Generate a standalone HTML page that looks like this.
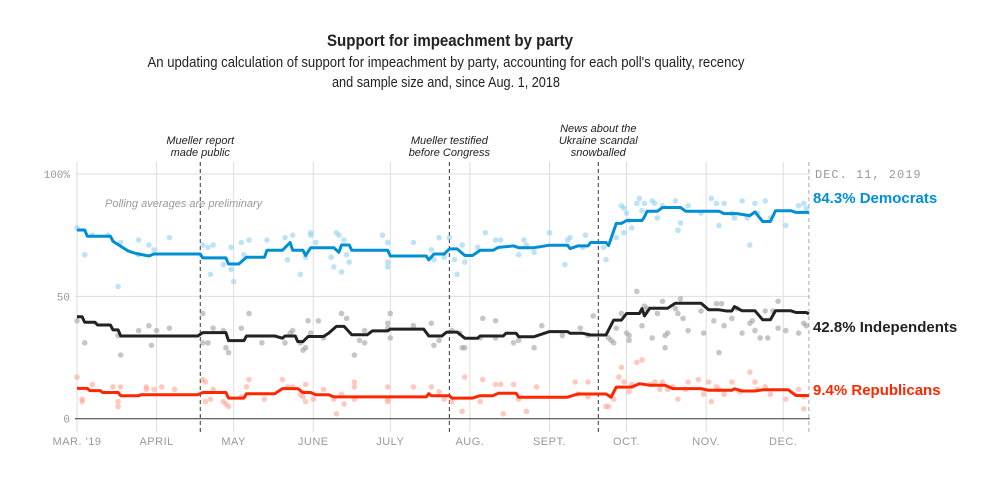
<!DOCTYPE html>
<html><head><meta charset="utf-8">
<style>
html,body{margin:0;padding:0;background:#fff;}
body{width:1003px;height:481px;overflow:hidden;font-family:"Liberation Sans",sans-serif;}
svg{display:block;}
</style></head>
<body>
<svg id="chart" width="1003" height="481">
<text x="450" y="46" text-anchor="middle" font-size="17" font-weight="bold" fill="#222" textLength="246" lengthAdjust="spacingAndGlyphs">Support for impeachment by party</text>
<text x="446" y="67" text-anchor="middle" font-size="15" fill="#222" textLength="597" lengthAdjust="spacingAndGlyphs">An updating calculation of support for impeachment by party, accounting for each poll's quality, recency</text>
<text x="446" y="87" text-anchor="middle" font-size="15" fill="#222" textLength="228" lengthAdjust="spacingAndGlyphs">and sample size and, since Aug. 1, 2018</text>
<g id="plot"></g>
</svg>
<script>
const monthLabels=["MAR. '19","APRIL","MAY","JUNE","JULY","AUG.","SEPT.","OCT.","NOV.","DEC."];
const monthDays=[0,31,61,92,122,153,184,214,245,275];
const yTicks=[0,50,100];
const yTickLabels=["0","50","100%"];
const eventDays=[48,145,203];
const eventLabels=[["Mueller report","made public"],["Mueller testified","before Congress"],["News about the","Ukraine scandal","snowballed"]];
const demDays=[0,3,4,13,14,20,23,28,30,48,49,58,59,63,66,73,74,80,83,84,88,89,91,100,102,103,106,107,121,122,136,137,139,143,145,148,151,154,157,162,164,170,172,178,184,191,192,195,199,200,206,207,210,212,214,220,221,222,226,228,235,237,250,252,257,262,264,267,270,272,278,280,284,285];
const demVals=[77.1,77.1,74.6,74.6,72.5,68.5,67.5,66.5,67.3,67.3,65.7,65.7,63.2,63.2,66,66,68.8,68.8,72,68.8,68.8,66.7,69.9,69.9,68,71,71,68.8,68.8,66.5,66.5,64.9,67.3,67.3,69.4,69.4,66.7,66.7,68.8,68.8,70,70.6,69.9,69.9,70.9,70.9,69.5,70.6,70.6,72,72,70.8,79.8,79.8,81,81,82.5,84.8,84.8,86.3,86.3,84.8,84.8,83.8,83.8,83,84.5,80.6,80.6,85,85,84.3,84.3,84.3];
const indDays=[0,2,3,7,8,13,14,16,17,47,49,58,59,65,66,77,80,81,85,86,88,90,96,98,101,104,107,113,115,121,122,135,137,142,144,148,151,156,157,166,167,171,172,178,184,191,192,197,200,206,209,212,214,219,220,221,223,230,233,243,246,250,253,255,256,259,264,267,270,272,278,280,284,285];
const indVals=[41.7,41.7,39.4,39.4,38.3,38.3,36.3,36.3,33.8,33.8,35.2,35.2,31.9,31.9,33.8,33.8,32.9,33.8,33.8,31.5,31.5,33.6,33.6,35,37.7,37.7,34.3,34.3,35.9,35.9,36.6,36.6,33.8,33.8,35.4,35.4,32.9,32.9,33.8,33.8,34.9,34.9,33.5,33.5,35.6,35.6,34.9,34.9,34.2,34.2,40.3,40.3,43,43,45,42,45.1,45.1,47.2,47.2,44.5,44.5,44,44,45.8,44.1,44.1,40.4,40.4,44.1,44.1,43.4,43.4,42.8];
const repDays=[0,4,5,9,10,16,17,24,25,47,49,58,59,65,66,77,80,86,88,91,93,98,100,136,137,138,145,146,154,157,162,164,171,172,191,195,206,208,210,216,219,223,229,232,243,246,255,256,259,264,267,277,280,284,285];
const repVals=[12.4,12.4,11.5,11.5,10.7,10.7,9.4,9.4,9.8,9.8,10.7,10.7,8.4,8.4,10.2,10.2,12.3,12.3,10.7,10.7,9.8,9.8,8.9,8.9,10.2,9.4,9.4,8.4,8.4,9.4,9.4,10.4,10.4,8.8,8.8,10.1,10.1,8.8,12.9,12.9,14.3,13.7,13.7,12.3,12.3,11.6,11.6,12.2,11.3,11.3,11.8,11.8,9.5,9.5,9.4];
const demPollDays=[0,3,6,12,16,17,24,24,28,30,36,49,51,52,53,57,60,60,61,64,65,67,74,81,82,84,87,89,91,91,93,99,100,101,102,103,104,105,106,119,121,121,121,131,138,139,141,143,145,147,148,150,151,156,159,163,165,172,174,178,175,184,190,191,192,198,197,205,206,210,212,213,213,214,215,216,218,219,220,221,224,225,226,228,233,234,235,238,243,247,249,250,252,255,256,259,261,262,264,265,268,270,276,281,283,284];
const demPollVals=[78,67,75,75,54,72,73,67,71,69,74,71,70,59,71,63,70,61,56,72,67,73,73,74,65,75,59,66,75,76,72,66,62,76,75,60,73,67,64,75,72,64,62,72,69,65,74,66,74,65,59,71,64,70,76,73,73,67,73,68,71,76,63,73,74,75,70,70,65,74,87,86,76,84,81,78,88,90,85,88,89,88,82,87,89,77,80,87,84,90,88,79,88,84,82,89,82,71,88,84,89,82,79,87,88,86];
const indPollDays=[0,3,17,16,24,28,29,31,36,49,49,51,53,57,58,59,64,67,72,81,83,84,87,88,89,90,91,94,96,103,105,108,110,112,112,121,121,122,122,131,138,139,141,146,149,150,151,157,158,163,163,170,172,178,181,189,196,199,201,207,208,209,210,212,214,215,215,218,220,221,222,224,226,228,229,229,230,233,234,235,236,238,243,244,248,249,250,251,252,255,257,259,262,263,264,266,268,269,271,273,273,276,281,283,284];
const indPollVals=[40,31,26,34,36,38,30,36,37,43,31,31,37,36,29,27,37,43,31,31,35,36,31,28,29,40,35,40,33,43,41,26,32,31,36,39,37,43,33,38,39,30,32,36,35,29,29,33,41,40,33,31,32,29,38,34,37,34,42,33,32,31,37,43,35,32,34,52,38,46,45,33,43,48,34,29,35,45,43,49,41,36,44,35,40,47,27,47,38,41,45,35,39,40,36,33,44,33,44,48,37,36,35,39,38];
const repPollDays=[0,2,2,6,14,16,16,17,27,27,30,33,38,49,50,50,52,53,57,58,59,64,66,67,73,80,82,84,87,88,89,89,92,96,100,101,103,104,108,108,108,121,121,121,131,138,141,143,146,150,151,157,158,163,165,166,170,172,175,179,194,195,199,199,206,207,209,211,212,213,215,216,218,220,223,225,227,228,230,232,234,237,238,242,244,246,247,249,250,252,255,258,262,264,265,268,270,276,281,283,283];
const repPollVals=[17,8,7,14,13,7,5,13,13,12,12,13,12,16,15,7,8,12,7,6,5,9,13,16,8,16,13,13,10,9,14,7,8,12,8,2,10,6,15,8,13,13,7,8,13,13,11,8,7,3,17,7,16,14,14,2,14,8,3,13,15,10,15,9,5,5,8,17,21,15,11,14,23,24,14,15,12,15,12,13,8,12,15,16,10,15,7,13,12,10,15,11,19,15,12,13,10,8,12,9,4];

const X0=77, PXDAY=2.568, Y0=418.7, PXPCT=2.447;
function xScale(d){return X0+d*PXDAY;}
function yScale(v){return Y0-v*PXPCT;}
const NS="http://www.w3.org/2000/svg";
const plot=document.getElementById('plot');
function mk(tag,attrs,parent){const e=document.createElementNS(NS,tag);for(const k in attrs)e.setAttribute(k,attrs[k]);(parent||plot).appendChild(e);return e;}

monthDays.forEach((d,i)=>{
  const x=xScale(d);
  const g=mk('line',{x1:x,x2:x,y1:162,y2:432,stroke:'#ddd','stroke-width':1});
  
  
  const t=mk('text',{x:x,y:445,'text-anchor':'middle','font-size':11,fill:'#999','font-family':'"Liberation Sans Narrow","Liberation Sans",sans-serif','letter-spacing':'0.5'});
  t.textContent=monthLabels[i];
  
  
});
yTicks.forEach((v,i)=>{
  const y=yScale(v);
  const l=mk('line',{x1:75,x2:810,y1:y,y2:y,stroke:v===0?'#333':'#ddd','stroke-width':1});
  
  
  const t=mk('text',{x:70,y:y+4,'text-anchor':'end','font-size':11,fill:'#999','font-family':'"Liberation Mono",monospace'});
  t.textContent=yTickLabels[i];
  
  
});
const ed=mk('line',{x1:xScale(285),x2:xScale(285),y1:162,y2:432,stroke:'#aaa','stroke-width':1,'stroke-dasharray':'4,3'});


const edt=mk('text',{x:815,y:178,'font-size':12,fill:'#999','font-family':'"Liberation Mono",monospace','letter-spacing':'1'});
edt.textContent='DEC. 11, 2019';


eventDays.forEach((d,i)=>{
  const x=xScale(d);
  const l=mk('line',{x1:x,x2:x,y1:162,y2:432,stroke:'#333','stroke-width':1,'stroke-dasharray':'4,3'});
  
  
  const lines=eventLabels[i];
  lines.forEach((s,j)=>{
    const t=mk('text',{x:x,y:156-(lines.length-1-j)*12,'text-anchor':'middle','font-size':11,'font-style':'italic',fill:'#222'});
    t.textContent=s;
    
    
  });
});
const prelim=mk('text',{x:105,y:207,'font-size':11,'font-style':'italic',fill:'#999'});
prelim.textContent='Polling averages are preliminary';



const series=[
 {name:'democrats',color:'#008fd5',dotColor:'#8fd0f0',days:demDays,vals:demVals,pd:demPollDays,pv:demPollVals,label:'84.3% Democrats',ly:203},
 {name:'independents',color:'#222',dotColor:'#a0a0a0',days:indDays,vals:indVals,pd:indPollDays,pv:indPollVals,label:'42.8% Independents',ly:332},
 {name:'republicans',color:'#ff2700',dotColor:'#ffa594',days:repDays,vals:repVals,pd:repPollDays,pv:repPollVals,label:'9.4% Republicans',ly:395}
];
series.forEach(s=>{
  s.pd.forEach((d,i)=>{
    const c=mk('circle',{cx:xScale(d),cy:yScale(s.pv[i]),r:2.8,fill:s.dotColor,opacity:0.6});
    
    
  });
});
series.forEach(s=>{
  const pts=s.days.map((d,i)=>xScale(d).toFixed(1)+','+yScale(s.vals[i]).toFixed(1)).join(' ');
  const p=mk('polyline',{points:pts,fill:'none',stroke:s.color,'stroke-width':3,'stroke-linejoin':'round'});
  
  
  const t=mk('text',{x:813,y:s.ly,'font-size':15,'font-weight':'bold',fill:s.color});
  t.textContent=s.label;
  
  
});
</script>
</body></html>
